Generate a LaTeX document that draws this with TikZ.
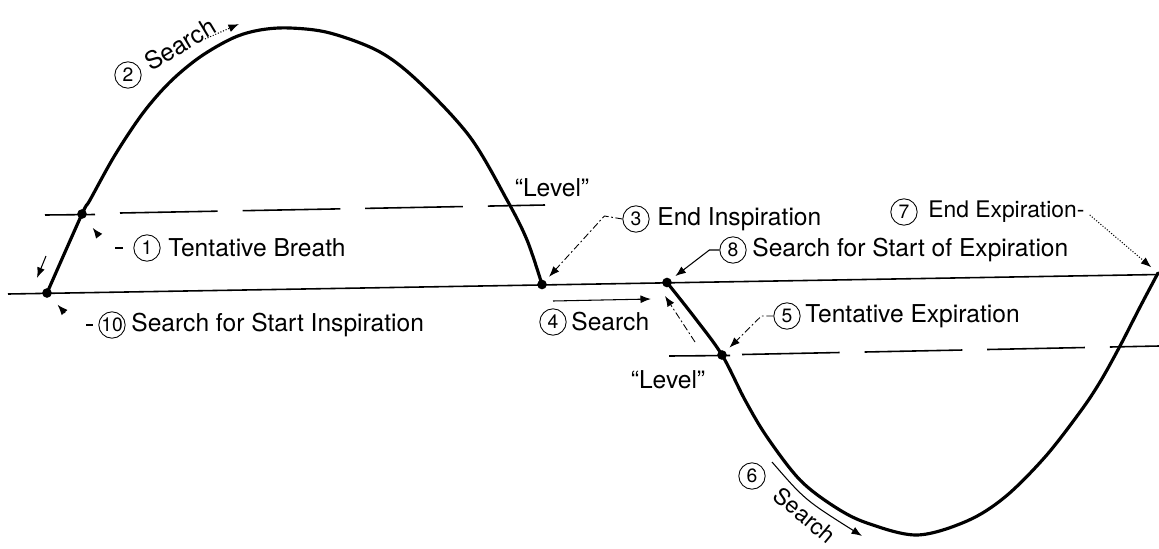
\documentclass[tikz,border=0pt]{standalone}
\usepackage{fontspec}
\setmainfont{TeX Gyre Heros}
\usetikzlibrary{arrows.meta,calc}
\begin{document}
\begin{tikzpicture}[x=0.02cm,y=-0.02cm,
  curve/.style={line width=1.8pt, line join=round, line cap=round},
  base/.style={line width=0.9pt},
  lvl/.style={line width=0.9pt},
  lvldash/.style={line width=0.9pt, dash pattern=on 55.6pt off 14.2pt},
  txt/.style={font=\fontsize{14}{16}\selectfont, inner sep=0pt, anchor=west},
  rtxt/.style={font=\fontsize{14}{16}\selectfont, inner sep=0pt},
  num/.style={circle, draw, line width=0.5pt, minimum size=15pt, inner sep=0pt, font=\fontsize{11}{12}\selectfont},
  dot/.style={circle, fill, inner sep=0pt, minimum size=5.5pt},
  lead/.style={line width=0.5pt, dash pattern=on 4pt off 1.5pt on 1pt off 1.5pt},
  thinl/.style={line width=0.6pt},
  tip/.style={-{Latex[length=6pt,width=4.5pt]}}
]
\useasboundingbox (0,0) rectangle (1159,548);

% baseline
\coordinate (bl) at (8,294);
\coordinate (br) at (1159,274.5);
\draw[base] (bl) -- (br);

% level lines
\draw[lvl] (45,215) -- (95,214.5);
\draw[lvldash] (120,213) -- (545,205);
\draw[lvl] (669,356) -- (730,355.5);
\draw[lvldash] (742,354.5) -- (1159,346);

% inspiration curve
\draw[curve] plot[smooth, tension=0.55] coordinates {
 (47,293) (82,214) (90,200) (115,155) (143,113) (170,82) (200,57) (233,38)
 (260,30) (290,28) (330,33) (380,52) (420,83) (470,137) (507,200) (527,240) (542,284.5)};

% expiration curve
\draw[curve] plot[smooth, tension=0.55] coordinates {
 (667,282.5) (695,318) (722,355) (745,400) (767,437) (800,480) (835,507) (867,523)
 (917,535) (967,521) (1005,497) (1045,457) (1080,412) (1100,382) (1120,346) (1140,307) (1158,273)};

% key points
\node[dot] (sA) at (47,293) {};
\node[dot] (tb) at (82,214) {};
\node[dot] (ei) at (542,284.5) {};
\node[dot] (se) at (667,282.5) {};
\node[dot] (te) at (722,355) {};
\coordinate (ee) at (1158,273);

% (1) Tentative Breath
\node[num] (c1) at (147,248) {1};
\node[txt] (t1) at (168,248) {Tentative Breath};
\draw[thinl] (c1.west) ++(-18,0) -- ++(8,0);
\coordinate (a1) at (99,236);
\draw[thinl, tip, shorten >=7pt] (a1) -- (tb);
\coordinate (d1s) at (46,256);
\coordinate (d1e) at (37,278);
\draw[thinl, tip] (d1s) -- (d1e);

% (10) Search for Start Inspiration
\node[num] (c10) at (112,325) {10};
\node[txt] (t10) at (131,325) {Search for Start Inspiration};
\draw[thinl] (c10.west) ++(-12,0) -- ++(7,0);
\coordinate (a10) at (65,313);
\draw[thinl, tip, shorten >=6pt] (a10) -- (sA);

% (2) Search
\node[num] (c2) at (128,75) {2};
\node[rtxt, rotate=31] (t2) at (180,44) {Search};
\coordinate (s2s) at (205,39);
\coordinate (s2e) at (239,24);
\draw[thinl, densely dotted, tip] (s2s) -- (s2e);

% "Level" labels
\node[rtxt] (lv1) at (552,188) {``Level''};
\node[rtxt] (lv2) at (668,380) {``Level''};

% (3) End Inspiration
\node[num] (c3) at (636,219) {3};
\node[txt] (t3) at (657,219) {End Inspiration};
\draw[lead, tip, shorten >=3pt] (c3.west) -- ++(-18,-3) -- (ei);

% (8) Search for Start of Expiration
\node[num] (c8) at (733,250) {8};
\node[txt] (t8) at (752,250) {Search for Start of Expiration};
\draw[thinl, tip, shorten >=3pt] (c8.west) -- ++(-10,0) -- (se);

% (4) Search
\node[num] (c4) at (553,322) {4};
\node[txt] (t4) at (571,322) {Search};
\coordinate (s4s) at (553,301);
\coordinate (s4e) at (651,299);
\draw[thinl, tip] (s4s) -- (s4e);

% dashed return arrow
\coordinate (r8s) at (695,342);
\coordinate (r8e) at (665,296);
\draw[lead, tip] (r8s) -- (r8e);

% (5) Tentative Expiration
\node[num] (c5) at (787,316) {5};
\node[txt] (t5) at (805,316) {Tentative Expiration};
\draw[lead, tip, shorten >=3pt] (c5.west) -- ++(-12,0) -- (te);

% (7) End Expiration
\node[num] (c7) at (904,212) {7};
\node[txt, font=\fontsize{13}{15}\selectfont] (t7) at (928,212) {End Expiration-};
\draw[thinl, densely dotted, tip, shorten >=5pt] ($(t7.east)+(5,3)$) -- (ee);

% (6) Search
\node[num] (c6) at (752,476) {6};
\node[rtxt, font=\fontsize{13}{15}\selectfont, rotate=-40] (t6) at (805,515) {Search};
\coordinate (s6s) at (772,462);
\coordinate (s6e) at (862,536);
\draw[thinl, tip] (s6s) .. controls (805,500) .. (s6e);
\end{tikzpicture}
\end{document}
